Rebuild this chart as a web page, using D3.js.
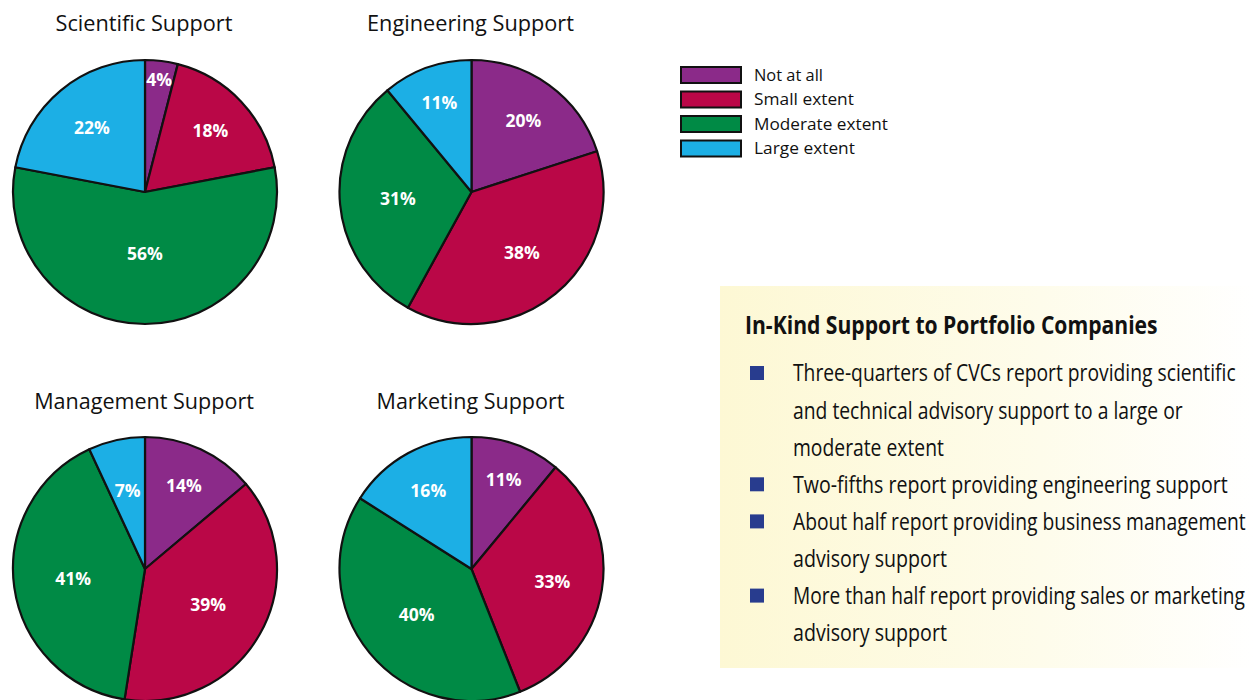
<!DOCTYPE html>
<html>
<head>
<meta charset="utf-8">
<script src="https://cdn.jsdelivr.net/npm/d3@7"></script>
<style>
  html, body { margin: 0; padding: 0; background: #fff; }
  svg { display: block; }
</style>
</head>
<body>
<svg id="chart" width="1255" height="700"></svg>
<script>
// ---- data ----
const categories = ["Not at all", "Small extent", "Moderate extent", "Large extent"];
const chartTitles = ["Scientific Support", "Engineering Support", "Management Support", "Marketing Support"];
const scientific = [4, 18, 56, 22];
const engineering = [20, 38, 31, 11];
const management = [14, 39, 41, 7];
const marketing = [11, 33, 40, 16];
const colors = ["#8B2A89", "#BA0747", "#008A45", "#1CAFE5"];
const boxTitle = "In-Kind Support to Portfolio Companies";
const bullets = [
  ["Three-quarters of CVCs report providing scientific", "and technical advisory support to a large or", "moderate extent"],
  ["Two-fifths report providing engineering support"],
  ["About half report providing business management", "advisory support"],
  ["More than half report providing sales or marketing", "advisory support"]
];

const series = [scientific, engineering, management, marketing];

// ---- layout (not data) ----
const centers = [[145, 192], [471.5, 192], [145, 569], [471.5, 569]];
const titleY = [31, 31, 409, 409];
const titleW = [177, 207, 220, 188];
const R = 132;
// label distance from centre, as a fraction of the radius
const labelFrac = [
  [0.86, 0.68, 0.47, 0.63],
  [0.67, 0.60, 0.56, 0.72],
  [0.70, 0.55, 0.55, 0.61],
  [0.72, 0.62, 0.54, 0.68]
];

const svg = d3.select("#chart");
const color = d3.scaleOrdinal().domain(categories).range(colors);

// place a text at (x,y) horizontally scaled to a target width
function fitText(parent, str, x, y, target, attrs, anchor) {
  const t = parent.append("text").text(str);
  Object.entries(attrs).forEach(([k, v]) => t.attr(k, v));
  t.attr("x", 0).attr("y", 0);
  const w = t.node().getComputedTextLength();
  const s = w > 0 ? target / w : 1;
  t.attr("text-anchor", anchor || "start")
   .attr("transform", `translate(${x},${y}) scale(${s},1)`);
  return t;
}

const pie = d3.pie().sort(null).value(d => d.v);
const arc = d3.arc().innerRadius(0).outerRadius(R);

series.forEach((vals, i) => {
  const data = vals.map((v, j) => ({ v, cat: categories[j], j }));
  const g = svg.append("g").attr("transform", `translate(${centers[i][0]},${centers[i][1]})`);
  const arcs = pie(data);
  g.selectAll("path").data(arcs).join("path")
    .attr("d", arc)
    .attr("fill", d => color(d.data.cat))
    .attr("stroke", "#111")
    .attr("stroke-width", 2.2)
    .attr("stroke-linejoin", "round");
  g.selectAll("text.lbl").data(arcs).join("text")
    .attr("class", "lbl")
    .attr("transform", d => {
      const lr = R * labelFrac[i][d.data.j];
      const a = d3.arc().innerRadius(lr).outerRadius(lr);
      const c = a.centroid(d);
      return `translate(${c[0]},${c[1]})`;
    })
    .attr("text-anchor", "middle")
    .attr("dy", "0.36em")
    .attr("fill", "#fff")
    .attr("font-family", "'Open Sans', sans-serif")
    .attr("font-weight", "bold")
    .attr("font-size", 17.5)
    .text(d => d.data.v + "%");
  fitText(svg, chartTitles[i], centers[i][0] - 1, titleY[i], titleW[i], {
    "font-family": "'Open Sans', sans-serif",
    "font-size": 21,
    "fill": "#111"
  }, "middle");
});

// legend
const legendW = [69, 100, 134, 101];
const legend = svg.append("g").attr("transform", "translate(681,67)");
categories.forEach((c, i) => {
  const row = legend.append("g").attr("transform", `translate(0,${i * 24.5})`);
  row.append("rect")
    .attr("x", 0).attr("y", 0).attr("width", 60).attr("height", 16)
    .attr("fill", color(c))
    .attr("stroke", "#111").attr("stroke-width", 2);
  fitText(row, c, 73, 8, legendW[i], {
    "font-family": "'Open Sans', sans-serif",
    "font-size": 16,
    "fill": "#111",
    "dy": "0.36em"
  });
});

// text box
const defs = svg.append("defs");
const grad = defs.append("linearGradient").attr("id", "boxgrad")
  .attr("x1", "0%").attr("x2", "100%").attr("y1", "0%").attr("y2", "0%");
grad.append("stop").attr("offset", "0%").attr("stop-color", "#FDF8D4");
grad.append("stop").attr("offset", "60%").attr("stop-color", "#FEFCEB");
grad.append("stop").attr("offset", "100%").attr("stop-color", "#FFFFFF");

svg.append("rect")
  .attr("x", 720).attr("y", 286).attr("width", 535).attr("height", 382)
  .attr("fill", "url(#boxgrad)");

fitText(svg, boxTitle, 745, 334, 413, {
  "font-family": "'Open Sans', sans-serif",
  "font-weight": "bold",
  "font-size": 25,
  "fill": "#111"
});

const lineWidths = [[443, 390, 151], [435], [453, 154], [452, 154]];
let lineIdx = 0;
const lineY0 = 373, lineStep = 37.1;
bullets.forEach((b, bi) => {
  const yC = lineY0 + lineIdx * lineStep;
  svg.append("rect")
    .attr("x", 750).attr("y", yC - 7).attr("width", 14).attr("height", 14)
    .attr("fill", "#283C8E");
  b.forEach((line, li) => {
    fitText(svg, line, 793, lineY0 + lineIdx * lineStep, lineWidths[bi][li], {
      "font-family": "'Open Sans', sans-serif",
      "font-size": 24,
      "fill": "#111",
      "dy": "0.35em"
    });
    lineIdx++;
  });
});
</script>
</body>
</html>
